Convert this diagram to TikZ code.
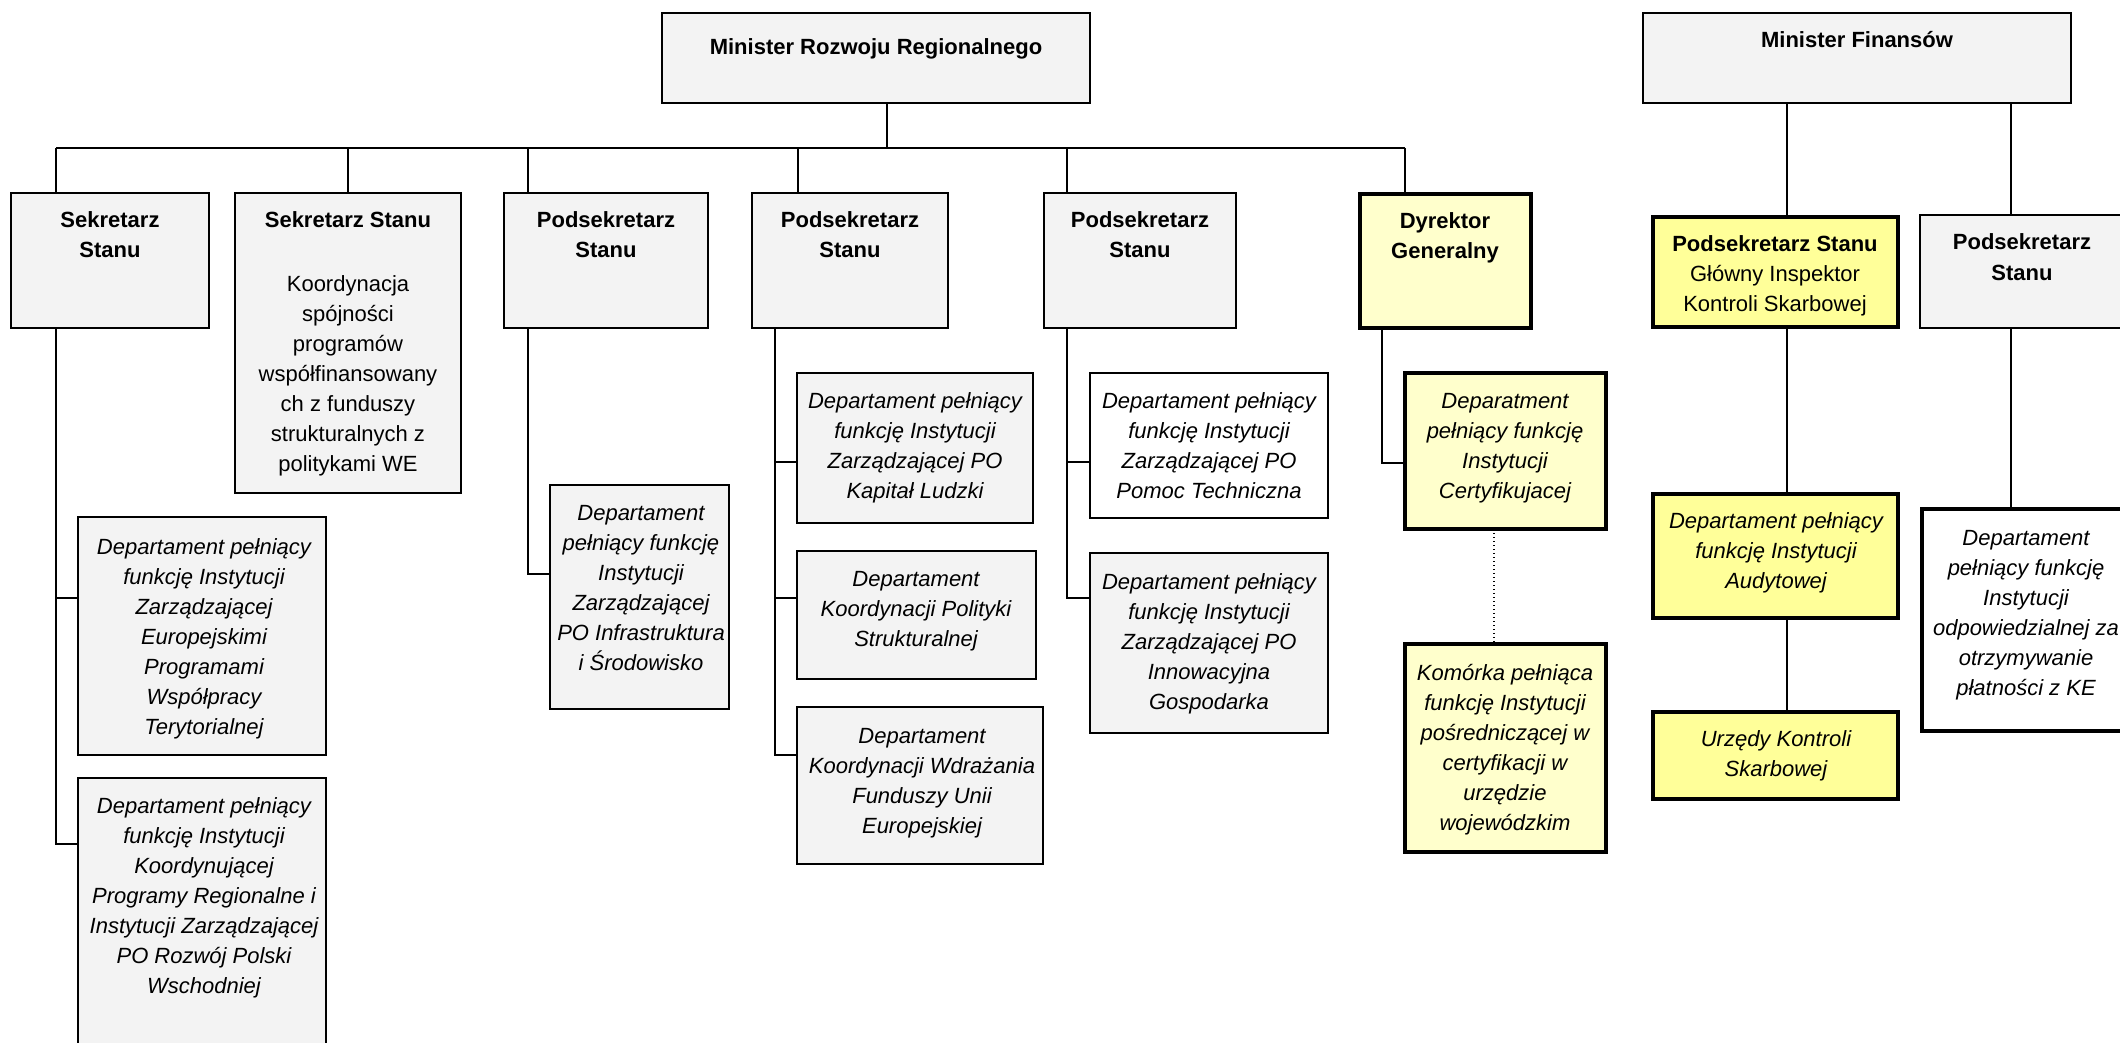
\documentclass[tikz,border=0pt]{standalone}
\usepackage{fontspec}
\setmainfont{Liberation Sans}
\usetikzlibrary{fit}
\definecolor{boxgray}{HTML}{F3F3F3}
\definecolor{lightyel}{HTML}{FFFFCC}
\definecolor{yel}{HTML}{FFFF99}
\tikzset{
  base/.style={inner sep=0pt, outer sep=0pt},
  graybox/.style={base, draw=black, line width=0.7pt, fill=boxgray},
  whitebox/.style={base, draw=black, line width=0.7pt, fill=white},
  lybox/.style={base, draw=black, line width=2pt, fill=lightyel},
  ybox/.style={base, draw=black, line width=2pt, fill=yel},
  wthick/.style={base, draw=black, line width=2pt, fill=white},
  txt/.style={base, align=center, font=\fontsize{11}{15}\selectfont},
  btxt/.style={base, align=center, font=\fontsize{11}{15}\selectfont\bfseries},
  itxt/.style={base, align=center, font=\fontsize{11}{15}\selectfont\itshape},
  link/.style={draw=black, line width=0.55pt},
  buslink/.style={draw=black, line width=0.7pt},
  dotlink/.style={draw=black, line width=0.7pt, dash pattern=on 0.7pt off 1.3pt},
}
\newcommand\obox[6]{\node[#6, fit={(#2,#3) (#4,#5)}] (#1) {};}
\begin{document}
\begin{tikzpicture}[x=0.5pt,y=-0.5pt]
\useasboundingbox (0,0) rectangle (2120,1043);
% boxes
\obox{mrr}{662}{13}{1090}{103}{graybox}
\obox{mf}{1643}{13}{2071}{103}{graybox}
\obox{b1}{11}{193}{209}{328}{graybox}
\obox{b2}{235}{193}{461}{493}{graybox}
\obox{b3}{504}{193}{708}{328}{graybox}
\obox{b4}{752}{193}{948}{328}{graybox}
\obox{b5}{1044}{193}{1236}{328}{graybox}
\obox{dg}{1360}{194}{1531}{328}{lybox}
\obox{psg}{1653}{217}{1898}{327}{ybox}
\obox{psr}{1920}{215}{2130}{328}{graybox}
\obox{ewt}{78}{517}{326}{755}{graybox}
\obox{rpw}{78}{778}{326}{1060}{graybox}
\obox{inf}{550}{485}{729}{709}{graybox}
\obox{kl}{797}{373}{1033}{523}{graybox}
\obox{kps}{797}{551}{1036}{679}{graybox}
\obox{kwf}{797}{707}{1043}{864}{graybox}
\obox{pt}{1090}{373}{1328}{518}{whitebox}
\obox{pig}{1090}{553}{1328}{733}{graybox}
\obox{cert}{1405}{373}{1606}{529}{lybox}
\obox{kom}{1405}{644}{1606}{852}{lybox}
\obox{aud}{1653}{494}{1898}{618}{ybox}
\obox{uks}{1653}{712}{1898}{799}{ybox}
\obox{pay}{1922}{509}{2130}{731}{wthick}
% texts
\node[btxt] (tmrr) at (876,49) {\strut Minister Rozwoju Regionalnego};
\node[btxt] (tmf) at (1857,42) {\strut Minister Finansów};
\node[btxt] (tb1) at (110,237) {\strut Sekretarz\\Stanu\strut};
\node[btxt] (tb2) at (348,222) {\strut Sekretarz Stanu};
\node[txt] (tb2b) at (348,375) {\strut Koordynacja\\spójności\\programów\\współfinansowany\\ch z funduszy\\strukturalnych z\\politykami WE\strut};
\node[btxt] (tb3) at (606,237) {\strut Podsekretarz\\Stanu\strut};
\node[btxt] (tb4) at (850,237) {\strut Podsekretarz\\Stanu\strut};
\node[btxt] (tb5) at (1140,237) {\strut Podsekretarz\\Stanu\strut};
\node[btxt] (tdg) at (1445,238) {\strut Dyrektor\\Generalny\strut};
\node[txt] (tpsg) at (1775,276) {\strut\textbf{Podsekretarz Stanu}\\Główny Inspektor\\Kontroli Skarbowej\strut};
\node[btxt] (tpsr) at (2022,259) {\strut Podsekretarz\\Stanu\strut};
\node[itxt] (tewt) at (204,638) {\strut Departament pełniący\\funkcję Instytucji\\Zarządzającej\\Europejskimi\\Programami\\Współpracy\\Terytorialnej\strut};
\node[itxt] (trpw) at (204,897) {\strut Departament pełniący\\funkcję Instytucji\\Koordynującej\\Programy Regionalne i\\Instytucji Zarządzającej\\PO Rozwój Polski\\Wschodniej\strut};
\node[itxt] (tinf) at (641,589) {\strut Departament\\pełniący funkcję\\Instytucji\\Zarządzającej\\PO Infrastruktura\\i Środowisko\strut};
\node[itxt] (tkl) at (915,447) {\strut Departament pełniący\\funkcję Instytucji\\Zarządzającej PO\\Kapitał Ludzki\strut};
\node[itxt] (tkps) at (916,610) {\strut Departament\\Koordynacji Polityki\\Strukturalnej\strut};
\node[itxt] (tkwf) at (922,782) {\strut Departament\\Koordynacji Wdrażania\\Funduszy Unii\\Europejskiej\strut};
\node[itxt] (tpt) at (1209,447) {\strut Departament pełniący\\funkcję Instytucji\\Zarządzającej PO\\Pomoc Techniczna\strut};
\node[itxt] (tpig) at (1209,643) {\strut Departament pełniący\\funkcję Instytucji\\Zarządzającej PO\\Innowacyjna\\Gospodarka\strut};
\node[itxt] (tcert) at (1505,447) {\strut Deparatment\\pełniący funkcję\\Instytucji\\Certyfikujacej\strut};
\node[itxt] (tkom) at (1505,749) {\strut Komórka pełniąca\\funkcję Instytucji\\pośredniczącej w\\certyfikacji w\\urzędzie\\wojewódzkim\strut};
\node[itxt] (taud) at (1776,552) {\strut Departament pełniący\\funkcję Instytucji\\Audytowej\strut};
\node[itxt] (tuks) at (1776,755) {\strut Urzędy Kontroli\\Skarbowej\strut};
\node[itxt] (tpay) at (2026,614) {\strut Departament\\pełniący funkcję\\Instytucji\\odpowiedzialnej za\\otrzymywanie\\płatności z KE\strut};
% connectors
\coordinate (busL) at (56,148);
\coordinate (busR) at (1405,148);
\coordinate (jm) at (887,148);
\coordinate (d2) at (348,148);
\coordinate (d3) at (528,148);
\coordinate (d4) at (798,148);
\coordinate (d5) at (1067,148);
\draw[buslink] (busL) -- (busR);
\draw[link] (jm |- mrr.south) -- (jm);
\draw[link] (busL) -- (busL |- b1.north);
\draw[link] (d2) -- (d2 |- b2.north);
\draw[link] (d3) -- (d3 |- b3.north);
\draw[link] (d4) -- (d4 |- b4.north);
\draw[link] (d5) -- (d5 |- b5.north);
\draw[link] (busR) -- (busR |- dg.north);
% Sekretarz Stanu subtree
\coordinate (s1a) at (56,598);
\coordinate (s1b) at (56,844);
\draw[link] (s1a |- b1.south) -- (s1b) -- (s1b -| rpw.west);
\draw[link] (s1a) -- (s1a -| ewt.west);
% Podsekretarz (3)
\coordinate (s3) at (528,574);
\draw[link] (s3 |- b3.south) -- (s3) -- (s3 -| inf.west);
% Podsekretarz (4)
\coordinate (s4a) at (775,462);
\coordinate (s4b) at (775,598);
\coordinate (s4c) at (775,755);
\draw[link] (s4a |- b4.south) -- (s4c) -- (s4c -| kwf.west);
\draw[link] (s4a) -- (s4a -| kl.west);
\draw[link] (s4b) -- (s4b -| kps.west);
% Podsekretarz (5)
\coordinate (s5a) at (1067,462);
\coordinate (s5b) at (1067,598);
\draw[link] (s5a |- b5.south) -- (s5b) -- (s5b -| pig.west);
\draw[link] (s5a) -- (s5a -| pt.west);
% Dyrektor Generalny
\coordinate (s6) at (1382,463);
\draw[link] (s6 |- dg.south) -- (s6) -- (s6 -| cert.west);
\coordinate (dt) at (1494,0);
\draw[dotlink] (dt |- cert.south) -- (dt |- kom.north);
% Minister Finansow
\coordinate (m1) at (1787,0);
\coordinate (m2) at (2011,0);
\draw[link] (m1 |- mf.south) -- (m1 |- psg.north);
\draw[link] (m1 |- psg.south) -- (m1 |- aud.north);
\draw[link] (m1 |- aud.south) -- (m1 |- uks.north);
\draw[link] (m2 |- mf.south) -- (m2 |- psr.north);
\draw[link] (m2 |- psr.south) -- (m2 |- pay.north);
\end{tikzpicture}
\end{document}
